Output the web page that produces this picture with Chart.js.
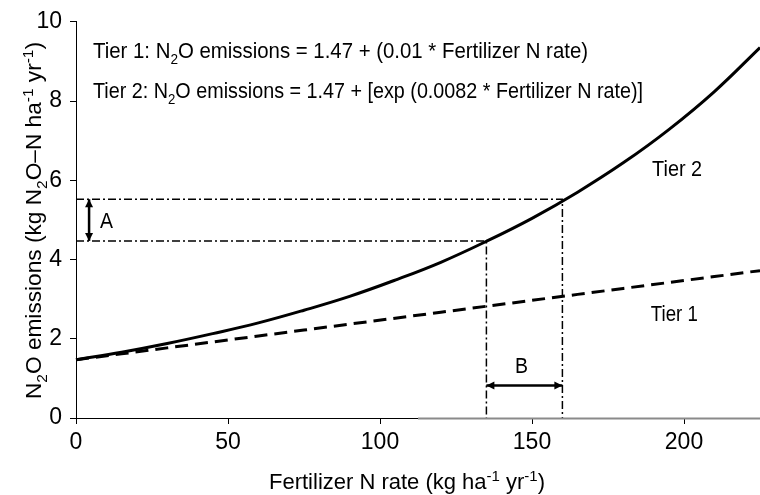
<!DOCTYPE html>
<html lang="en">
<head>
<meta charset="UTF-8">
<title>N2O emissions vs fertilizer N rate</title>
<script src="https://cdn.jsdelivr.net/npm/chart.js"></script>
<style>
  body { margin: 0; background: #fff; }
  #wrap { width: 760px; height: 495px; }
</style>
</head>
<body>
<div id="wrap"><canvas id="n2oChart" width="760" height="495"></canvas></div>
<script>
// values
const rates = [0, 15, 30, 45, 60, 75, 90, 105, 120, 135, 150, 165, 180, 195, 210, 225];
const tier1 = [1.47, 1.62, 1.77, 1.92, 2.07, 2.22, 2.37, 2.52, 2.67, 2.82, 2.97, 3.12, 3.27, 3.42, 3.57, 3.72];
const tier2 = [1.47, 1.66, 1.88, 2.13, 2.40, 2.72, 3.07, 3.48, 3.93, 4.46, 5.04, 5.70, 6.44, 7.28, 8.24, 9.35];
const xTicks = [0, 50, 100, 150, 200];
const yTicks = [0, 2, 4, 6, 8, 10];

// the two rates marked on the Tier 2 curve (B) and their emissions (A)
const refRates = [135, 160];
const refValues = [4.47, 5.52];

const FONT = "'Liberation Sans', Arial, sans-serif";

function fontFor(part, size) {
    const s = part[1] ? Math.round(size * 0.66) : size;
    return s + 'px ' + FONT;
}

function richWidth(ctx, parts, size) {
    let w = 0;
    parts.forEach(p => { ctx.font = fontFor(p, size); w += ctx.measureText(p[0]).width; });
    return w;
}

// draws text with sub/superscripts, squeezed to targetW
function drawRich(ctx, parts, x, y, size, targetW) {
    const w = richWidth(ctx, parts, size);
    const k = targetW ? targetW / w : 1;
    ctx.save();
    ctx.translate(x, y);
    ctx.scale(k, 1);
    ctx.fillStyle = '#000';
    ctx.textBaseline = 'alphabetic';
    ctx.textAlign = 'left';
    let cx = 0;
    parts.forEach(p => {
        ctx.font = fontFor(p, size);
        const dy = p[1] === 'sub' ? size * 0.26 : p[1] === 'sup' ? -size * 0.36 : 0;
        ctx.fillText(p[0], cx, dy);
        cx += ctx.measureText(p[0]).width;
    });
    ctx.restore();
}

function arrowHead(ctx, x, y, ang) {
    const len = 8, half = 4;
    ctx.beginPath();
    ctx.moveTo(x, y);
    ctx.lineTo(x - len * Math.cos(ang) + half * Math.sin(ang), y - len * Math.sin(ang) - half * Math.cos(ang));
    ctx.lineTo(x - len * Math.cos(ang) - half * Math.sin(ang), y - len * Math.sin(ang) + half * Math.cos(ang));
    ctx.closePath();
    ctx.fill();
}

function doubleArrow(ctx, x1, y1, x2, y2) {
    const ang = Math.atan2(y2 - y1, x2 - x1);
    ctx.save();
    ctx.strokeStyle = '#000';
    ctx.fillStyle = '#000';
    ctx.lineWidth = 2.5;
    ctx.beginPath();
    ctx.moveTo(x1, y1);
    ctx.lineTo(x2, y2);
    ctx.stroke();
    arrowHead(ctx, x2, y2, ang);
    arrowHead(ctx, x1, y1, ang + Math.PI);
    ctx.restore();
}

const annotations = {
    id: 'annotations',
    afterDatasetsDraw(chart) {
        const ctx = chart.ctx;
        const xs = chart.scales.x, ys = chart.scales.y;
        const px = v => xs.getPixelForValue(v);
        const py = v => ys.getPixelForValue(v);

        // grey right part of the x axis (as in the scan)
        ctx.save();
        ctx.strokeStyle = '#8a8a8a';
        ctx.lineWidth = 2;
        ctx.beginPath();
        ctx.moveTo(px(112.5), py(0) + 0.5);
        ctx.lineTo(px(225), py(0) + 0.5);
        ctx.stroke();
        ctx.restore();

        // arrows A and B
        doubleArrow(ctx, px(4.3), py(refValues[1]), px(4.3), py(refValues[0]));
        doubleArrow(ctx, px(refRates[0]), py(0.82), px(refRates[1]), py(0.82));

        drawRich(ctx, [['Tier 1: N'], ['2', 'sub'], ['O emissions = 1.47 + (0.01 * Fertilizer N rate)']],
            px(5.6), py(9.08), 22.5, 495);
        drawRich(ctx, [['Tier 2: N'], ['2', 'sub'], ['O emissions = 1.47 + [exp (0.0082 * Fertilizer N rate)]']],
            px(5.6), py(8.08), 22.5, 550);
        drawRich(ctx, [['Tier 2']], px(189.5), py(6.12), 22, 50);
        drawRich(ctx, [['Tier 1']], px(189.1), py(2.44), 22, 47);
        drawRich(ctx, [['A']], px(7.9), py(4.8), 22, 13);
        drawRich(ctx, [['B']], px(144.4), py(1.14), 22, 13);

        // axis titles
        drawRich(ctx, [['Fertilizer N rate (kg ha'], ['-1', 'sup'], [' yr'], ['-1', 'sup'], [')']],
            269, 489, 22, 276);
        ctx.save();
        ctx.translate(41, 221);
        ctx.rotate(-Math.PI / 2);
        drawRich(ctx, [['N'], ['2', 'sub'], ['O emissions (kg N'], ['2', 'sub'], ['O\u2013N ha'], ['-1', 'sup'],
            [' yr'], ['-1', 'sup'], [')']], -178, 0, 22, 357);
        ctx.restore();
    }
};

function refLine(i) {
    return {
        label: 'ref' + i,
        data: [{ x: 0, y: refValues[i] }, { x: refRates[i], y: refValues[i] }, { x: refRates[i], y: 0 }],
        borderColor: '#000',
        borderWidth: 1.5,
        borderDash: [8, 3, 2, 3],
        pointRadius: 0,
        showLine: true,
        fill: false
    };
}

const ctx = document.getElementById('n2oChart').getContext('2d');
new Chart(ctx, {
    type: 'scatter',
    data: {
        datasets: [
            {
                label: 'Tier 2',
                data: rates.map((r, i) => ({ x: r, y: tier2[i] })),
                borderColor: '#000',
                borderWidth: 3,
                pointRadius: 0,
                showLine: true,
                tension: 0.4,
                clip: false
            },
            {
                label: 'Tier 1',
                data: rates.map((r, i) => ({ x: r, y: tier1[i] })),
                borderColor: '#000',
                borderWidth: 3,
                borderDash: [13, 7],
                pointRadius: 0,
                showLine: true,
                clip: false
            },
            refLine(0),
            refLine(1)
        ]
    },
    options: {
        responsive: false,
        animation: false,
        layout: { padding: { top: 16, right: 0, left: 0, bottom: 0 } },
        plugins: {
            legend: { display: false },
            tooltip: { enabled: false }
        },
        scales: {
            x: {
                type: 'linear',
                min: 0,
                max: 225,
                afterBuildTicks: s => { s.ticks = xTicks.map(v => ({ value: v })); },
                afterFit: s => { s.height = 77; },
                grid: { display: true, drawOnChartArea: false, drawTicks: true, tickLength: 6, color: '#000' },
                border: { display: true, color: '#000', width: 1 },
                ticks: { color: '#000', padding: 5, maxRotation: 0, font: { family: FONT, size: 23 } }
            },
            y: {
                min: 0,
                max: 10,
                afterBuildTicks: s => { s.ticks = yTicks.map(v => ({ value: v })); },
                afterFit: s => { s.width = 76; },
                grid: { display: true, drawOnChartArea: false, drawTicks: true, tickLength: 6, color: '#000' },
                border: { display: true, color: '#000', width: 1 },
                ticks: { color: '#000', padding: 8, font: { family: FONT, size: 23 } }
            }
        }
    },
    plugins: [annotations]
});
</script>
</body>
</html>
